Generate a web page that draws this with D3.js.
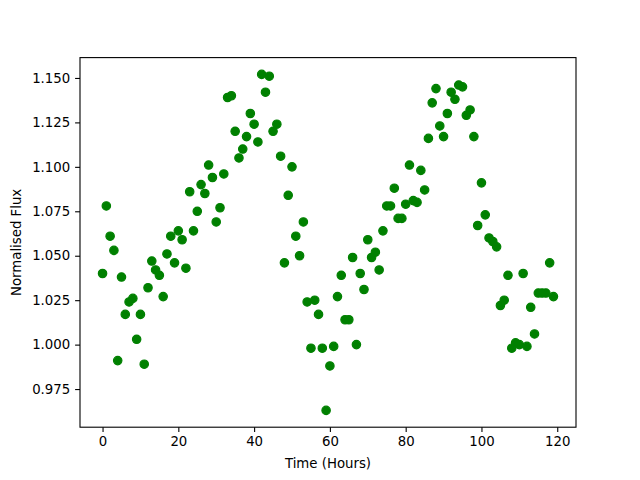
<!DOCTYPE html>
<html>
<head>
<meta charset="utf-8">
<script src="https://cdn.jsdelivr.net/npm/d3@7"></script>
<style>
  body { margin: 0; background: #fff; }
  text { font-family: "DejaVu Sans", sans-serif; }
</style>
</head>
<body>
<div id="chart"></div>
<script>
// hourly readings, 0..119
var hours = d3.range(0, 120);
var flux = [
  1.040, 1.078, 1.061, 1.053, 0.991, 1.038, 1.017, 1.024, 1.026, 1.003,
  1.017, 0.989, 1.032, 1.047, 1.042, 1.039, 1.027, 1.051, 1.061, 1.046,
  1.064, 1.059, 1.043, 1.086, 1.064, 1.075, 1.090, 1.085, 1.101, 1.094,
  1.069, 1.077, 1.096, 1.139, 1.140, 1.120, 1.105, 1.110, 1.117, 1.130,
  1.124, 1.114, 1.152, 1.142, 1.151, 1.120, 1.124, 1.106, 1.046, 1.084,
  1.100, 1.061, 1.050, 1.069, 1.024, 0.998, 1.025, 1.017, 0.998, 0.963,
  0.988, 0.999, 1.027, 1.039, 1.014, 1.014, 1.049, 1.000, 1.040, 1.031,
  1.059, 1.049, 1.052, 1.042, 1.064, 1.078, 1.078, 1.088, 1.071, 1.071,
  1.079, 1.101, 1.081, 1.080, 1.098, 1.087, 1.116, 1.136, 1.144, 1.123,
  1.117, 1.130, 1.142, 1.138, 1.146, 1.145, 1.129, 1.132, 1.117, 1.067,
  1.091, 1.073, 1.060, 1.058, 1.055, 1.022, 1.025, 1.039, 0.998, 1.001,
  1.000, 1.040, 0.999, 1.021, 1.006, 1.029, 1.029, 1.029, 1.046, 1.027
];
var xTicks = [0, 20, 40, 60, 80, 100, 120];
var yTicks = [0.975, 1.000, 1.025, 1.050, 1.075, 1.100, 1.125, 1.150];

var width = 640,
  height = 480;
var margin = {left: 80, right: 64, top: 57.6, bottom: 52.8};

var svg = d3.select('#chart').append('svg')
  .attr('width', width)
  .attr('height', height);

// matplotlib style 5% padding on each side
var xPad = (d3.max(hours) - d3.min(hours)) * 0.05;
var yPad = (d3.max(flux) - d3.min(flux)) * 0.05;

var x = d3.scaleLinear()
  .domain([d3.min(hours) - xPad, d3.max(hours) + xPad])
  .range([margin.left, width - margin.right]);

var y = d3.scaleLinear()
  .domain([d3.min(flux) - yPad, d3.max(flux) + yPad])
  .range([height - margin.bottom, margin.top]);

svg.append('g')
  .selectAll('circle')
  .data(hours)
  .join('circle')
  .attr('cx', function(d) { return x(d); })
  .attr('cy', function(d, i) { return y(flux[i]); })
  .attr('r', 4.2)
  .style('fill', 'green')
  .style('stroke', 'green')
  .style('stroke-width', 1.2);

var xAxis = svg.append('g')
  .attr('transform', 'translate(0,' + (height - margin.bottom) + ')')
  .call(d3.axisBottom(x).tickValues(xTicks).tickSize(4.9).tickPadding(4.9));

var yAxis = svg.append('g')
  .attr('transform', 'translate(' + margin.left + ',0)')
  .call(d3.axisLeft(y).tickValues(yTicks).tickFormat(d3.format('.3f')).tickSize(4.9).tickPadding(4.9));

[xAxis, yAxis].forEach(function(ax) {
  ax.select('.domain').remove();
  ax.selectAll('line').style('stroke', 'black').style('stroke-width', 1.1);
  ax.selectAll('text')
    .style('font-family', '"DejaVu Sans", sans-serif')
    .style('font-size', '13.3px')
    .style('fill', 'black');
});

// frame
svg.append('rect')
  .attr('x', margin.left)
  .attr('y', margin.top)
  .attr('width', width - margin.left - margin.right)
  .attr('height', height - margin.top - margin.bottom)
  .style('fill', 'none')
  .style('stroke', 'black')
  .style('stroke-width', 1.1);

svg.append('text')
  .text('Time (Hours)')
  .attr('x', (margin.left + width - margin.right) / 2)
  .attr('y', 468)
  .attr('text-anchor', 'middle')
  .style('font-size', '13.3px');

svg.append('text')
  .text('Normalised Flux')
  .attr('transform', 'translate(21,' + ((margin.top + height - margin.bottom) / 2) + ') rotate(-90)')
  .attr('text-anchor', 'middle')
  .style('font-size', '13.3px');
</script>
</body>
</html>
